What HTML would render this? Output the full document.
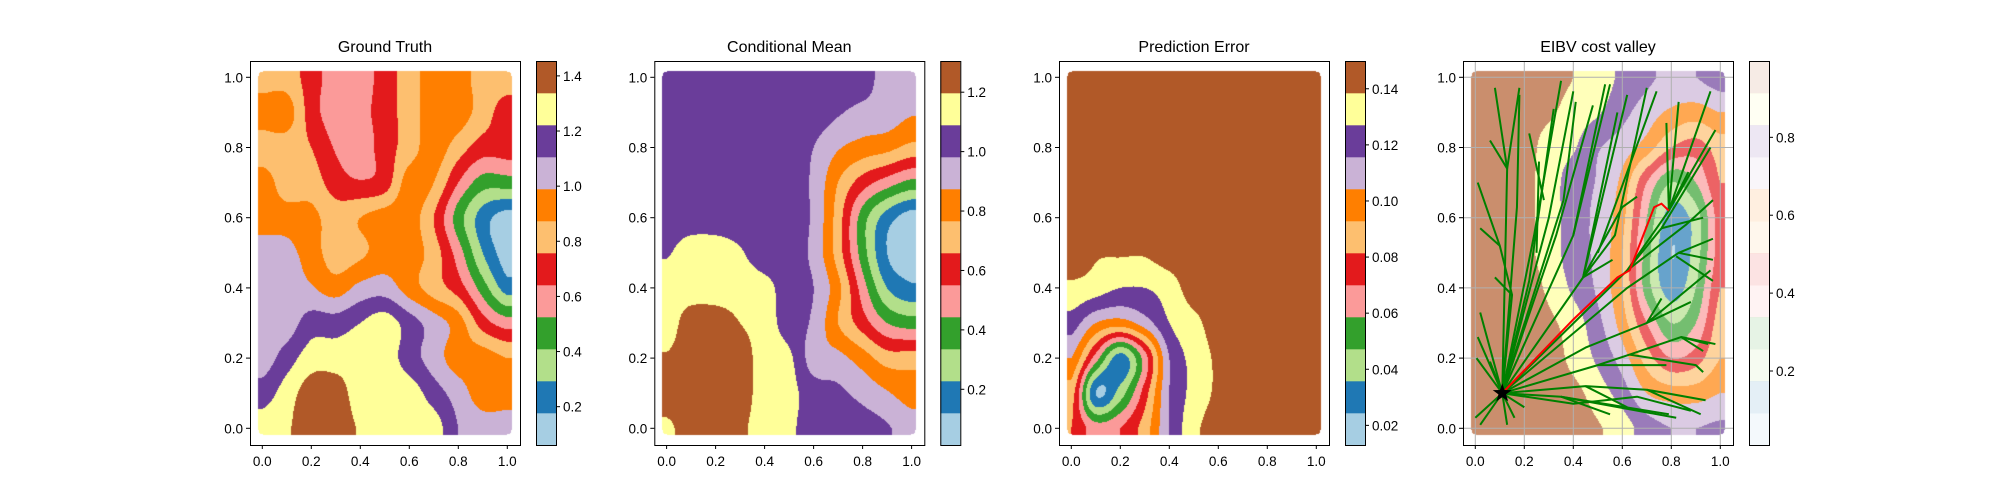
<!DOCTYPE html>
<html><head><meta charset="utf-8"><style>
html,body{margin:0;padding:0;background:#fff;}
#wrap{position:relative;width:2000px;height:500px;overflow:hidden;font-family:"Liberation Sans","DejaVu Sans",sans-serif;}
canvas{position:absolute;top:0;left:0;}
svg{position:absolute;top:0;left:0;}
</style></head><body>
<div id="wrap">
<canvas id="cv" width="2000" height="500"></canvas>
<svg id="sv" width="2000" height="500"></svg>
</div>
<script>
const paired = ["#a6cee3","#1f78b4","#b2df8a","#33a02c","#fb9a99","#e31a1c","#fdbf6f","#ff7f00","#cab2d6","#6a3d9a","#ffff99","#b15928"];
const titles = ["Ground Truth","Conditional Mean","Prediction Error","EIBV cost valley"];
const panelLefts = [250, 654.3, 1059, 1463];
const axisTicks = [0.0,0.2,0.4,0.6,0.8,1.0];
const cbTicks1 = [0.2,0.4,0.6,0.8,1.0,1.2,1.4];
const cbTicks2 = [0.2,0.4,0.6,0.8,1.0,1.2];
const cbTicks3 = [0.02,0.04,0.06,0.08,0.10,0.12,0.14];
const cbTicks4 = [0.2,0.4,0.6,0.8];
const cbRange1 = [0.061,1.454];
const cbRange2 = [0.0125,1.305];
const cbRange3 = [0.013,0.1499];
const cbRange4 = [0.01,0.996];
const fieldTruth = [
[6,6,5,4,4,5,6,7,7,6,6],
[7,7,5,4,4.2,5,6,7,7,6,5],
[6,6,5.5,4.4,4,5,6,7,6,5,5],
[7,6,6,5,4.6,5,7,6.5,4.5,3,3],
[7,7,6.8,6,6.5,7,7,5.5,3,1,0],
[8,7.8,7,6,6.3,7,7,6,4,1.5,0],
[8,8,7.6,7,7.8,8,7,6,5,3,1],
[8,8,9,9,9.5,10,9,8,7,5,4],
[8,9,10,10,10,10,9,8,7,7,6.5],
[9,10,11,11,10,10,10,9,8,7,7],
[10,10.4,11,11,10.4,10,10,10,8.5,8,8]];
const fieldMean = [
[9,9,9,9,9,9,9,9,9,8,8],
[9,9,9,9,9,9,9,8.6,8.2,8,7.6],
[9,9,9,9,9,9,8.5,7.6,7.1,6.8,6.2],
[9,9,9,9,9,9,8.3,6.5,5,4,3.2],
[9,9,9,9,9,9,8.3,6,3,1,0],
[9.4,10,10,9.6,9,9,8.2,6,3,0.5,0],
[10,10,10,10,9.8,9,8.5,6.8,4,1.5,0.7],
[10,11,11,10.5,10,9,8.3,6.5,5,3.5,3],
[10.6,11,11,11,10,9.7,8,7.8,7,6,6],
[11,11,11,11,10,9.8,9,8.7,8.2,7.6,7],
[10.3,11,11,10.7,10,9.7,9,9,8.9,8.6,8]];
const fieldError = [
[11,11,11,11,11,11,11,11,11,11,11],
[11,11,11,11,11,11,11,11,11,11,11],
[11,11,11,11,11,11,11,11,11,11,11],
[11,11,11,11,11,11,11,11,11,11,11],
[11,11,11,11,11,11,11,11,11,11,11],
[11,10.6,10.6,10.6,11,11,11,11,11,11,11],
[10.3,10,9.5,9.5,10,11,11,11,11,11,11],
[9,7.5,7,8,9.5,10.2,11,11,11,11,11],
[7.5,4,1,4,8.5,9.8,10.7,11,11,11,11],
[6,0.5,2,5,8.5,9.8,10.7,11,11,11,11],
[5.5,4,4.5,6,8.5,10.2,11,11,11,11,11]];
const fieldCost = [
[11,11,11,11,10.5,10,9.3,8.7,8.3,8.5,9],
[11,11,11,10.7,10,9.6,8.8,8,7.3,7,7.5],
[11,11,11,10,9.6,8.6,8,7,5.5,5,6],
[11,11,10.8,10,9,8.4,7.2,4.5,2.5,3.5,5.5],
[11,11,10.8,10,9,8.2,6.8,3.5,1,2,5],
[11,11,10.8,10,9,8.2,6.5,3,0.5,2,5],
[11,11,11,10.3,9.3,8.3,6.5,3,1,2.5,5.5],
[11,11,11,10.7,10,8.8,7,4.5,2.5,3.5,6],
[11,11,11,11,10.2,9.3,8,6,4.5,5,6.5],
[11,11,11,11,10.8,10,9,7.5,7,7,7.5],
[11,11,11,11,11,10.6,10,9,8.5,8.5,8.7]];
const S=[0.11,0.10];
const treeBranches = [
[S,[0.13,0.74],[0.08,0.97]],[[0.13,0.74],[0.18,0.97]],[[0.13,0.74],[0.06,0.82]],
[S,[0.17,0.63],[0.18,0.95]],[S,[0.15,0.38],[0.10,0.52],[0.01,0.70]],[[0.10,0.52],[0.02,0.57]],
[[0.15,0.38],[0.08,0.43]],[S,[0.01,0.26]],[S,[0.005,0.20]],[S,[0.02,0.33]],[S,[0.00,0.03]],
[S,[0.13,0.01]],[S,[0.20,0.06]],[S,[0.02,0.01]],[S,[0.16,0.03]],[S,[0.06,0.19]],
[S,[0.24,0.55],[0.35,0.99]],[S,[0.22,0.42],[0.32,0.91]],[[0.28,0.65],[0.22,0.84]],
[S,[0.30,0.60],[0.40,0.96]],[S,[0.36,0.65],[0.41,0.93]],[S,[0.33,0.55],[0.48,0.92]],
[[0.25,0.50],[0.26,0.76]],[S,[0.40,0.55],[0.53,0.98]],[[0.40,0.55],[0.55,0.98]],
[S,[0.44,0.43],[0.58,0.90]],[[0.44,0.43],[0.62,0.95]],[[0.44,0.43],[0.57,0.55],[0.70,0.97]],
[[0.50,0.50],[0.74,0.96]],[[0.44,0.43],[0.56,0.48]],[[0.44,0.43],[0.60,0.63],[0.66,0.66]],
[S,[0.62,0.45],[0.79,0.62],[0.83,0.93]],[[0.79,0.62],[0.78,0.87]],[[0.79,0.62],[0.96,0.96]],
[[0.79,0.62],[0.98,0.85]],[[0.79,0.62],[0.87,0.73]],[[0.62,0.45],[0.76,0.57],[0.96,0.80]],
[[0.62,0.45],[0.86,0.58],[0.97,0.65]],[[0.76,0.57],[0.93,0.60]],
[S,[0.62,0.40],[0.83,0.50],[0.97,0.54]],[[0.83,0.50],[0.97,0.48]],[[0.82,0.49],[0.97,0.42]],
[S,[0.45,0.23],[0.70,0.30],[0.96,0.45]],[[0.70,0.30],[0.88,0.36]],[[0.70,0.30],[0.76,0.37]],
[S,[0.50,0.18],[0.63,0.21],[0.84,0.26],[0.95,0.24]],[[0.84,0.26],[0.93,0.22]],[[0.84,0.26],[0.98,0.24]],
[[0.63,0.21],[0.90,0.18],[0.93,0.16]],[[0.50,0.18],[0.78,0.18]],
[S,[0.45,0.12],[0.70,0.11],[0.94,0.08]],[[0.70,0.11],[0.92,0.04]],[[0.45,0.12],[0.62,0.06]],
[S,[0.35,0.09],[0.55,0.04]],[[0.35,0.09],[0.79,0.04]],[S,[0.40,0.07],[0.66,0.09],[0.88,0.05]],
[[0.35,0.09],[0.82,0.03]]];
const redPathX = [0.11,0.40,0.58,0.63,0.73,0.76,0.79];
const redPathY = [0.10,0.31,0.43,0.45,0.63,0.64,0.62];

const NS="http://www.w3.org/2000/svg";
const sv=document.getElementById('sv');
const ctx=document.getElementById('cv').getContext('2d');
const AX_T=61, AX_B=445, AX_W=270;
function xs(L,v){return L+12.3+245*v;}
function ys(v){return 428.3-351*v;}
function mk(tag,attrs,parent){const e=document.createElementNS(NS,tag);for(const k in attrs)e.setAttribute(k,attrs[k]);(parent||sv).appendChild(e);return e;}
function hexRGB(h){return [parseInt(h.slice(1,3),16),parseInt(h.slice(3,5),16),parseInt(h.slice(5,7),16)];}
function cr(p0,p1,p2,p3,t){return 0.5*((2*p1)+(-p0+p2)*t+(2*p0-5*p1+4*p2-p3)*t*t+(-p0+3*p1-3*p2+p3)*t*t*t);}
function g(F,r,c){r=Math.max(0,Math.min(10,r));c=Math.max(0,Math.min(10,c));return F[r][c];}
function sample(F,x,y){
  const cx=Math.min(Math.max(x,0),1)*10, ry=(1-Math.min(Math.max(y,0),1))*10;
  const c0=Math.min(Math.floor(cx),9), r0=Math.min(Math.floor(ry),9);
  const fx=cx-c0, fy=ry-r0;
  const rows=[];
  for(let k=-1;k<=2;k++){
    rows.push(cr(g(F,r0+k,c0-1),g(F,r0+k,c0),g(F,r0+k,c0+1),g(F,r0+k,c0+2),fx));
  }
  return cr(rows[0],rows[1],rows[2],rows[3],fy);
}
function drawField(L,F,alpha){
  const x0=Math.round(xs(L,-0.018)), x1=Math.round(xs(L,1.018));
  const y0=Math.round(ys(1.018)), y1=Math.round(ys(-0.018));
  const img=ctx.getImageData(x0,y0,x1-x0,y1-y0);
  const W=x1-x0,H=y1-y0,r=5;
  for(let j=0;j<H;j++)for(let i=0;i<W;i++){
    const dx=Math.max(r-i,i-(W-1-r),0), dy=Math.max(r-j,j-(H-1-r),0);
    if(dx*dx+dy*dy>r*r)continue;
    const px=x0+i+0.5, py=y0+j+0.5;
    const xv=(px-L-12.3)/245, yv=(428.3-py)/351;
    let b=Math.round(sample(F,xv,yv)); b=Math.max(0,Math.min(11,b));
    const c=hexRGB(paired[b]); const k=(j*W+i)*4;
    img.data[k]=Math.round(c[0]*alpha+255*(1-alpha));
    img.data[k+1]=Math.round(c[1]*alpha+255*(1-alpha));
    img.data[k+2]=Math.round(c[2]*alpha+255*(1-alpha));
    img.data[k+3]=255;
  }
  ctx.putImageData(img,x0,y0);
}
function drawAxes(p,L){
  const gg=mk('g',{});
  
  
  const t=mk('text',{x:L+135,y:52,'font-size':16,'text-anchor':'middle',fill:'#000'},gg);
  t.textContent=titles[p];
  
  
  if(p===3){
    axisTicks.forEach(v=>{
      const gl=mk('line',{x1:xs(L,v),x2:xs(L,v),y1:AX_T,y2:AX_B,stroke:'#b0b0b0','stroke-width':1},gg);
      
      
      const gh=mk('line',{x1:L,x2:L+AX_W,y1:ys(v),y2:ys(v),stroke:'#b0b0b0','stroke-width':1},gg);
      
      
    });
  }
  axisTicks.forEach(v=>{
    const X=xs(L,v);
    mk('line',{x1:X,x2:X,y1:AX_B,y2:AX_B+4,stroke:'#000','stroke-width':1},gg);
    const tx=mk('text',{x:X,y:466,'font-size':13.5,'text-anchor':'middle',fill:'#000'},gg);
    tx.textContent=v.toFixed(1);
    
    
    const Y=ys(v);
    mk('line',{x1:L-4,x2:L,y1:Y,y2:Y,stroke:'#000','stroke-width':1},gg);
    const ty=mk('text',{x:L-7,y:Y+5,'font-size':13.5,'text-anchor':'end',fill:'#000'},gg);
    ty.textContent=v.toFixed(1);
    
    
  });
  return gg;
}
function drawFrame(gg,L){
  const fr=mk('rect',{x:L+0.5,y:AX_T+0.5,width:AX_W,height:AX_B-AX_T,fill:'none',stroke:'#000','stroke-width':1},gg);
  
  
}
function drawColorbar(L,range,ticks,alpha,dec){
  const gg=mk('g',{});
  
  
  const cx=L+286, w=20, h=AX_B-AX_T, bh=h/12;
  for(let i=0;i<12;i++){
    const r=mk('rect',{x:cx,y:AX_B-(i+1)*bh,width:w,height:bh+0.3,fill:paired[i],'fill-opacity':alpha},gg);
    
    
  }
  mk('rect',{x:cx+0.5,y:AX_T+0.5,width:w,height:h,fill:'none',stroke:'#000','stroke-width':1},gg);
  ticks.forEach(v=>{
    const Y=AX_B-(v-range[0])/(range[1]-range[0])*h;
    mk('line',{x1:cx+w,x2:cx+w+4,y1:Y,y2:Y,stroke:'#000','stroke-width':1},gg);
    const t=mk('text',{x:cx+w+7,y:Y+5,'font-size':13.5,fill:'#000'},gg);
    t.textContent=v.toFixed(dec);
    
    
  });
}
const fields=[fieldTruth,fieldMean,fieldError,fieldCost];
const ranges=[cbRange1,cbRange2,cbRange3,cbRange4];
const cticks=[cbTicks1,cbTicks2,cbTicks3,cbTicks4];
const decs=[1,1,2,1];
for(let p=0;p<4;p++){
  const L=panelLefts[p];
  drawField(L,fields[p],p===3?0.68:1);
  const gg=drawAxes(p,L);
  if(p===3){
    const tg=mk('g',{},gg);
    
    
    treeBranches.forEach(br=>{
      const pl=mk('polyline',{points:br.map(q=>xs(L,q[0])+','+ys(q[1])).join(' '),fill:'none',stroke:'#008000','stroke-width':2,'stroke-linejoin':'round'},tg);
      
      
    });
    const rp=mk('polyline',{points:redPathX.map((x,i)=>xs(L,x)+','+ys(redPathY[i])).join(' '),fill:'none',stroke:'#ff0000','stroke-width':2},gg);
    
    
    const sx=xs(L,S[0]), sy=ys(S[1]); let pts=[];
    for(let i=0;i<10;i++){const a=-Math.PI/2+i*Math.PI/5, r=i%2?4:10; pts.push((sx+r*Math.cos(a))+','+(sy+r*Math.sin(a)));}
    const st=mk('polygon',{points:pts.join(' '),fill:'#000'},gg);
    
    
  }
  drawFrame(gg,L);
  drawColorbar(L,ranges[p],cticks[p],p===3?0.12:1,decs[p]);
}
</script>
</body></html>
